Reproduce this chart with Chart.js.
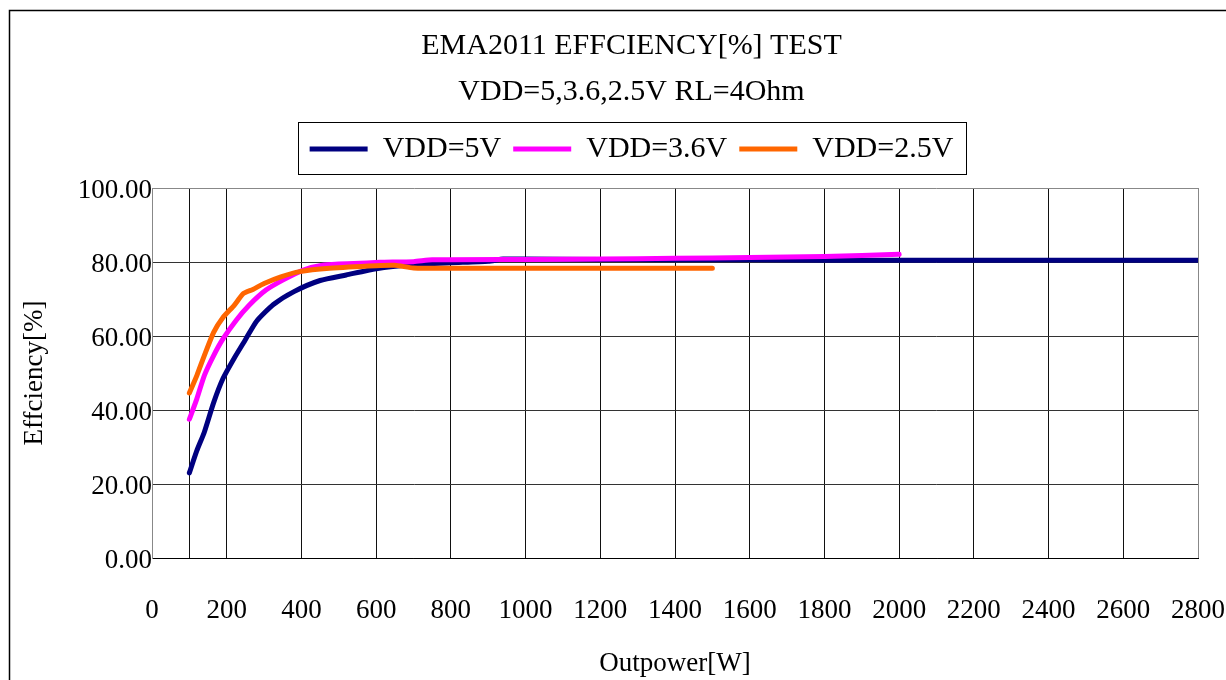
<!DOCTYPE html>
<html>
<head>
<meta charset="utf-8">
<script src="https://cdn.jsdelivr.net/npm/chart.js@4"></script>
<style>
  html, body { margin: 0; padding: 0; background: #fff; }
  #wrap { width: 1226px; height: 680px; position: relative; }
</style>
</head>
<body>
<div id="wrap"><canvas id="effChart"></canvas></div>
<script>
const titleLines = ["EMA2011 EFFCIENCY[%] TEST", "VDD=5,3.6,2.5V RL=4Ohm"];
const seriesNames = ["VDD=5V", "VDD=3.6V", "VDD=2.5V"];
const seriesColors = ["#000080", "#ff00ff", "#ff6600"];

// VDD=5V
const pow5 = [100, 120, 140, 165, 190, 220, 250, 280, 325, 380, 450, 520, 600, 700, 800, 900, 940, 1000, 1200, 1400, 1600, 1800, 2000, 2200, 2400, 2600, 2800];
const eff5 = [23, 29, 34, 42, 48.5, 54, 59, 64, 68.5, 72, 75, 76.5, 78.2, 79.3, 79.8, 80.2, 80.8, 80.8, 80.7, 80.6, 80.6, 80.5, 80.5, 80.5, 80.5, 80.5, 80.5];
// VDD=3.6V
const pow36 = [100, 120, 140, 165, 190, 225, 260, 305, 350, 405, 460, 540, 610, 700, 750, 1000, 1200, 1400, 1600, 1800, 2000];
const eff36 = [37.5, 43, 49.3, 54.7, 59.2, 64.2, 68.3, 72.4, 75.1, 77.8, 79.2, 79.6, 79.9, 80.1, 80.6, 80.7, 80.8, 81, 81.2, 81.5, 82.1];
// VDD=2.5V
const pow25 = [100, 120, 140, 165, 190, 220, 245, 270, 300, 345, 395, 475, 600, 650, 700, 800, 1000, 1200, 1400, 1500];
const eff25 = [44.6, 49.3, 54.7, 61, 65, 68.3, 71.5, 72.6, 74.2, 76, 77.4, 78.3, 79, 79.1, 78.4, 78.3, 78.3, 78.3, 78.3, 78.3];

const xLabelTicks = [0, 200, 400, 600, 800, 1000, 1200, 1400, 1600, 1800, 2000, 2200, 2400, 2600, 2800];
const xExtraGrid = [100];
const yTicks = [0, 20, 40, 60, 80, 100];

const FONT = "'Liberation Serif', 'Times New Roman', serif";

function toPoints(xs, ys) {
    return xs.map((x, i) => ({ x: x, y: ys[i] }));
}

const allSeries = [[pow5, eff5], [pow36, eff36], [pow25, eff25]];

const frame = {
    id: "frame",
    beforeDraw(chart) {
        const ctx = chart.ctx;
        ctx.save();
        ctx.strokeStyle = "#000";
        ctx.lineWidth = 1.5;
        ctx.strokeRect(9.5, 10.5, 1400, 1000);
        ctx.restore();
    },
    afterDraw(chart) {
        const lg = chart.legend;
        const hb = lg.legendHitBoxes;
        if (!hb || !hb.length) return;
        const last = hb[hb.length - 1];
        const ctx = chart.ctx;
        ctx.save();
        ctx.strokeStyle = "#000";
        ctx.lineWidth = 1;
        const l = Math.round(hb[0].left - 12) + 0.5;
        const r = Math.round(last.left + last.width + 13) + 0.5;
        ctx.strokeRect(l, Math.round(lg.top) + 0.5, r - l, Math.round(lg.bottom - lg.top));
        ctx.restore();
    }
};

new Chart(document.getElementById("effChart"), {
    type: "line",
    data: {
        datasets: allSeries.map((s, i) => ({
            label: seriesNames[i],
            data: toPoints(s[0], s[1]),
            borderColor: seriesColors[i],
            backgroundColor: seriesColors[i],
            borderWidth: 5,
            borderCapStyle: "round",
            borderJoinStyle: "round",
            pointRadius: 0,
            tension: 0.2,
            fill: false,
            order: 3 - i
        }))
    },
    options: {
        responsive: true,
        maintainAspectRatio: false,
        animation: false,
        layout: { padding: { left: 10, top: 11, right: -27, bottom: 0 } },
        plugins: {
            title: {
                display: true,
                text: titleLines,
                color: "#000",
                font: { family: FONT, size: 30, weight: "normal", lineHeight: 46 / 30 },
                padding: { top: 12, bottom: 7 }
            },
            subtitle: {
                display: true,
                text: "",
                weight: 500,
                font: { size: 1, lineHeight: 1 },
                padding: { top: 13, bottom: 0 }
            },
            legend: {
                display: true,
                position: "top",
                labels: {
                    color: "#000",
                    font: { family: FONT, size: 30 },
                    usePointStyle: true,
                    pointStyle: "line",
                    pointStyleWidth: 58,
                    padding: 12,
                    sort: (a, b) => a.datasetIndex - b.datasetIndex
                }
            },
            tooltip: { enabled: false }
        },
        scales: {
            x: {
                type: "linear",
                min: 0,
                max: 2800,
                afterBuildTicks: (scale) => {
                    scale.ticks = xLabelTicks.concat(xExtraGrid).sort((a, b) => a - b).map(v => ({ value: v }));
                },
                afterFit: (scale) => { scale.height = 122; },
                ticks: {
                    autoSkip: false,
                    maxRotation: 0,
                    padding: 1,
                    color: "#000",
                    font: { family: FONT, size: 27 },
                    callback: (v) => xLabelTicks.includes(v) ? String(v) : ""
                },
                grid: {
                    drawTicks: true,
                    tickLength: 36,
                    tickColor: "rgba(0,0,0,0)",
                    color: (c) => (c.tick && (c.tick.value === 0 || c.tick.value === 2800)) ? "#888" : "#111",
                    lineWidth: 1
                },
                border: { color: "#000", width: 1 },
                title: {
                    display: true,
                    text: "Outpower[W]",
                    color: "#000",
                    font: { family: FONT, size: 27 },
                    padding: { top: 0, bottom: 0 }
                }
            },
            y: {
                min: 0,
                max: 100,
                afterBuildTicks: (scale) => {
                    scale.ticks = yTicks.map(v => ({ value: v }));
                },
                afterFit: (scale) => { scale.width = 142; },
                ticks: {
                    padding: 0,
                    labelOffset: 3,
                    color: "#000",
                    font: { family: FONT, size: 27 },
                    callback: (v) => Number(v).toFixed(2)
                },
                grid: {
                    drawTicks: false,
                    color: (c) => (c.tick && c.tick.value === 100) ? "#888" : "#333",
                    lineWidth: 1
                },
                border: { color: "#888", width: 1 },
                title: {
                    display: true,
                    text: "Effciency[%]",
                    color: "#000",
                    font: { family: FONT, size: 27 },
                    padding: { top: 9, bottom: 0 }
                }
            }
        }
    },
    plugins: [frame]
});
</script>
</body>
</html>
